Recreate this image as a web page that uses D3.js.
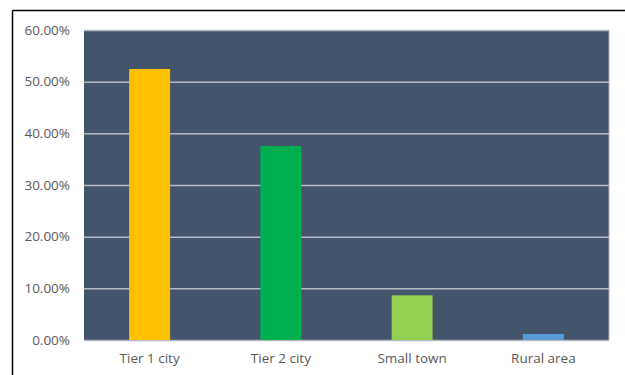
<!DOCTYPE html>
<html>
<head>
<meta charset="utf-8">
<script src="https://cdn.jsdelivr.net/npm/d3@7"></script>
<style>
  html, body { margin: 0; padding: 0; background: #ffffff; }
  svg { display: block; }
</style>
</head>
<body>
<svg id="chart" width="625" height="375"></svg>
<script>
// Share by location type
const categories = ["Tier 1 city", "Tier 2 city", "Small town", "Rural area"];
const values = [0.5245, 0.3755, 0.0865, 0.0116];
const barColors = ["#ffc000", "#00b050", "#92d050", "#5b9bd5"];
const yTicks = [0, 0.1, 0.2, 0.3, 0.4, 0.5, 0.6];

const svg = d3.select("#chart");
const plot = { left: 84, right: 609, top: 30, bottom: 340 };

// Outer frame: top and left edges
svg.append("line").attr("x1", 12.5).attr("x2", 625).attr("y1", 10.5).attr("y2", 10.5)
  .attr("stroke", "#000").attr("stroke-width", 1.5);
svg.append("line").attr("x1", 12.5).attr("x2", 12.5).attr("y1", 10.5).attr("y2", 375)
  .attr("stroke", "#000").attr("stroke-width", 1.5);

const x = d3.scaleBand()
  .domain(categories)
  .range([plot.left, plot.right])
  .paddingInner(0.688)
  .paddingOuter(0.344);

const y = d3.scaleLinear()
  .domain([0, 0.6])
  .range([plot.bottom, plot.top]);

// Plot background
svg.append("rect")
  .attr("x", plot.left).attr("y", plot.top)
  .attr("width", plot.right - plot.left).attr("height", plot.bottom - plot.top)
  .attr("fill", "#44546a");

// Right edge of plot
svg.append("line")
  .attr("x1", plot.right).attr("x2", plot.right)
  .attr("y1", plot.top).attr("y2", plot.bottom)
  .attr("stroke", "#aeb4bd").attr("stroke-width", 1);

// Horizontal gridlines and y labels
const yAxis = d3.axisLeft(y)
  .tickValues(yTicks)
  .tickFormat(d3.format(".2%"))
  .tickSize(-(plot.right - plot.left))
  .tickPadding(14);

const gy = svg.append("g")
  .attr("transform", `translate(${plot.left},0)`)
  .call(yAxis);
gy.select(".domain").remove();
gy.selectAll(".tick line").attr("stroke", "#b4b9c2").attr("stroke-width", 1.5);
gy.selectAll(".tick text")
  .attr("fill", "#595959")
  .style("font-family", "'Open Sans', sans-serif")
  .style("font-size", "13.5px");

// Bars
svg.append("g").selectAll("rect")
  .data(values)
  .join("rect")
  .attr("x", (d, i) => x(categories[i]))
  .attr("width", x.bandwidth())
  .attr("y", d => y(d))
  .attr("height", d => y(0) - y(d))
  .attr("fill", (d, i) => barColors[i]);

// Category labels
const xAxis = d3.axisBottom(x).tickSize(0).tickPadding(13);
const gx = svg.append("g")
  .attr("transform", `translate(0,${plot.bottom})`)
  .call(xAxis);
gx.select(".domain").remove();
gx.selectAll(".tick text")
  .attr("fill", "#595959")
  .style("font-family", "'Open Sans', sans-serif")
  .style("font-size", "13.5px");
</script>
</body>
</html>
